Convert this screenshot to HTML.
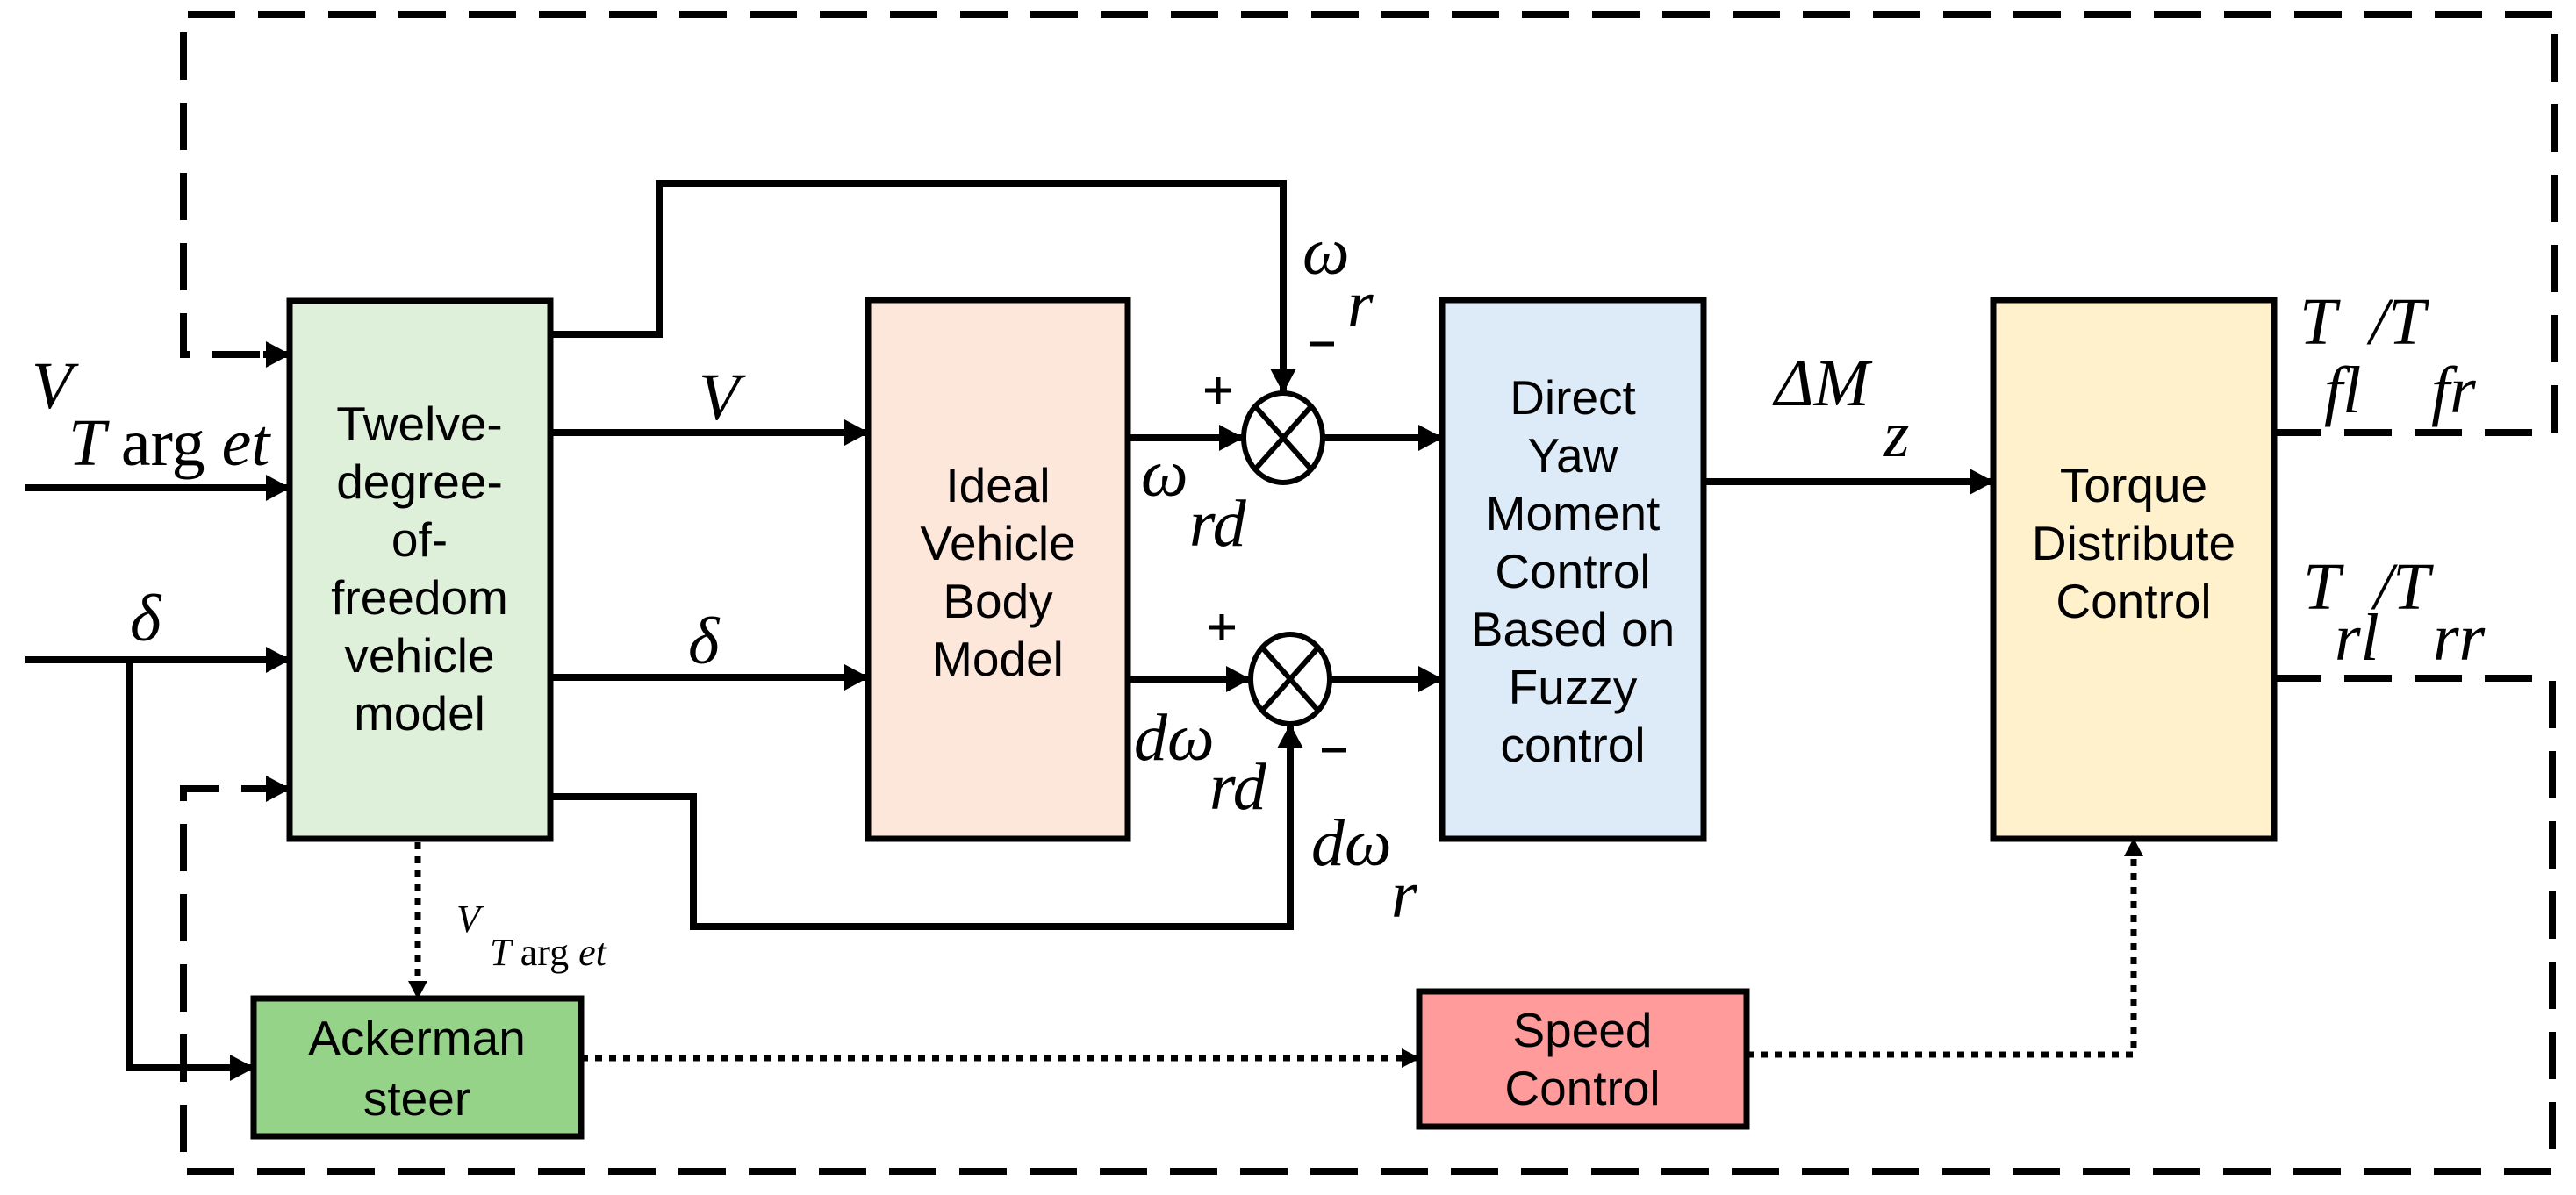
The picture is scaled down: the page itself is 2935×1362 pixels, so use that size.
<!DOCTYPE html>
<html><head><meta charset="utf-8"><style>
html,body{margin:0;padding:0;background:#fff}
svg{display:block}
.b{font-family:"Liberation Sans",sans-serif;font-size:55px;text-anchor:middle;fill:#000}
.m{font-family:"Liberation Serif",serif;font-style:italic;fill:#000}
.u{font-style:normal}
</style></head><body>
<svg width="2935" height="1362" viewBox="0 0 2935 1362" xmlns="http://www.w3.org/2000/svg">
<defs>
<marker id="a" markerWidth="30" markerHeight="32" refX="27" refY="15" orient="auto" markerUnits="userSpaceOnUse">
<path d="M0,0 L28,15 L0,30 Z" fill="#000"/></marker>
<marker id="s" markerWidth="22" markerHeight="24" refX="20" refY="11" orient="auto" markerUnits="userSpaceOnUse">
<path d="M0,0 L21,11 L0,22 Z" fill="#000"/></marker>
</defs>
<g fill="none" stroke="#000" stroke-width="8" stroke-dasharray="54,26">
<path d="M2591,493 H2911 V16 H209 V404 H300"/>
<path d="M2591,773 H2908 V1335 H209 V899 H300"/>
</g>
<path d="M300,404 H330" stroke="#000" stroke-width="8" marker-end="url(#a)"/>
<path d="M300,899 H330" stroke="#000" stroke-width="8" marker-end="url(#a)"/>
<g stroke="#000" stroke-width="7">
<rect x="330" y="343" width="297" height="613" fill="#dff0da"/>
<rect x="989" y="342" width="296" height="614" fill="#fde6da"/>
<rect x="1643" y="342" width="298" height="614" fill="#dcebf7"/>
<rect x="2271" y="342" width="320" height="614" fill="#fef1cc"/>
<rect x="289" y="1138" width="373" height="157" fill="#95d388"/>
<rect x="1617" y="1130" width="373" height="154" fill="#ff9b9b"/>
</g>
<g fill="none" stroke="#000" stroke-width="8">
<path d="M29,556 H330" marker-end="url(#a)"/>
<path d="M29,752 H330" marker-end="url(#a)"/>
<path d="M148,752 V1217 H289" marker-end="url(#a)"/>
<path d="M627,381 H751 V209 H1462 V447" marker-end="url(#a)"/>
<path d="M627,493 H989" marker-end="url(#a)"/>
<path d="M627,772 H989" marker-end="url(#a)"/>
<path d="M627,908 H790 V1056 H1470 V826" marker-end="url(#a)"/>
<path d="M1285,499 H1416" marker-end="url(#a)"/>
<path d="M1285,774 H1424" marker-end="url(#a)"/>
<path d="M1508,499 H1643" marker-end="url(#a)"/>
<path d="M1517,774 H1643" marker-end="url(#a)"/>
<path d="M1941,549 H2271" marker-end="url(#a)"/>
</g>
<g fill="#fff" stroke="#000" stroke-width="6">
<ellipse cx="1462" cy="499" rx="45" ry="51"/>
<ellipse cx="1470" cy="774" rx="45" ry="51"/>
</g>
<g stroke="#000" stroke-width="6">
<path d="M1430,463 L1494,535 M1494,463 L1430,535"/>
<path d="M1438,738 L1502,810 M1502,738 L1438,810"/>
</g>
<g fill="none" stroke="#000" stroke-width="7" stroke-dasharray="8,8">
<path d="M476,960 V1138" marker-end="url(#s)"/>
<path d="M662,1206 H1617" marker-end="url(#s)"/>
<path d="M1990,1202 H2431 V956" marker-end="url(#s)"/>
</g>
<text class="b"><tspan x="478" y="502">Twelve-</tspan><tspan x="478" y="568">degree-</tspan><tspan x="478" y="634">of-</tspan><tspan x="478" y="700">freedom</tspan><tspan x="478" y="766">vehicle</tspan><tspan x="478" y="832">model</tspan></text>
<text class="b"><tspan x="1137" y="572">Ideal</tspan><tspan x="1137" y="638">Vehicle</tspan><tspan x="1137" y="704">Body</tspan><tspan x="1137" y="770">Model</tspan></text>
<text class="b"><tspan x="1792" y="472">Direct</tspan><tspan x="1792" y="538">Yaw</tspan><tspan x="1792" y="604">Moment</tspan><tspan x="1792" y="670">Control</tspan><tspan x="1792" y="736">Based on</tspan><tspan x="1792" y="802">Fuzzy</tspan><tspan x="1792" y="868">control</tspan></text>
<text class="b"><tspan x="2431" y="572">Torque</tspan><tspan x="2431" y="638">Distribute</tspan><tspan x="2431" y="704">Control</tspan></text>
<text class="b"><tspan x="475" y="1202">Ackerman</tspan><tspan x="475" y="1271">steer</tspan></text>
<text class="b"><tspan x="1803" y="1193">Speed</tspan><tspan x="1803" y="1259">Control</tspan></text>
<g class="m" font-size="76">
<text x="36" y="465">V</text>
<text x="78" y="530">T <tspan class="u">arg</tspan> et</text>
<text x="148" y="730">δ</text>
<text x="796" y="478">V</text>
<text x="784" y="756">δ</text>
<text x="1300" y="565">ω</text>
<text x="1355" y="622">rd</text>
<text x="1292" y="866">dω</text>
<text x="1378" y="922">rd</text>
<text x="1484" y="312">ω</text>
<text x="1535" y="372">r</text>
<text x="1494" y="986">dω</text>
<text x="1585" y="1045">r</text>
<text x="2022" y="462">ΔM</text>
<text x="2146" y="520">z</text>
<text x="2620" y="392">T</text>
<text x="2700" y="392">/T</text>
<text x="2648" y="470">fl</text>
<text x="2770" y="470">fr</text>
<text x="2624" y="694">T</text>
<text x="2705" y="694">/T</text>
<text x="2660" y="752">rl</text>
<text x="2772" y="752">rr</text>
</g>
<g class="m" font-size="44">
<text x="520" y="1062">V</text>
<text x="558" y="1100">T <tspan class="u">arg</tspan> et</text>
</g>
<g stroke="#000" stroke-width="5">
<path d="M1373,445 H1403 M1388,430 V460"/>
<path d="M1377,715 H1407 M1392,700 V730"/>
<path d="M1492,392 H1520"/>
<path d="M1506,855 H1534"/>
</g>
</svg>
</body></html>
